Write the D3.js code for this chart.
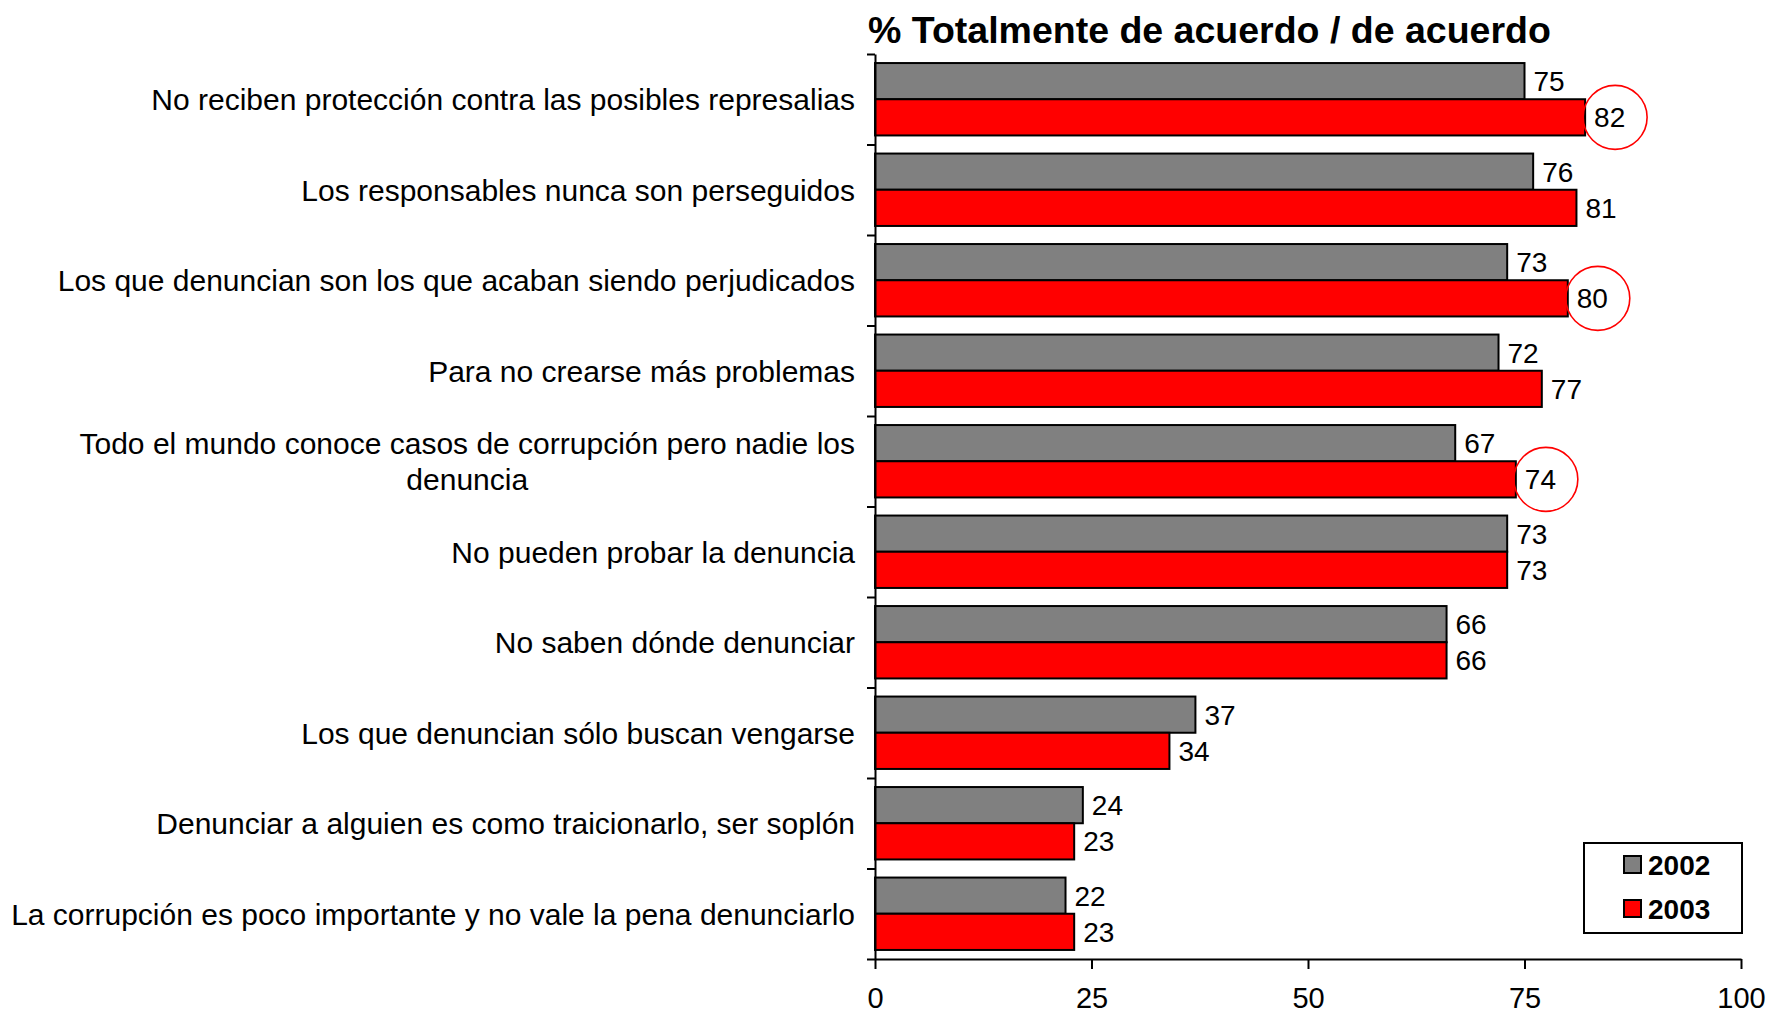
<!DOCTYPE html>
<html>
<head>
<meta charset="utf-8">
<script src="https://cdn.jsdelivr.net/npm/d3@7"></script>
<style>
  body { margin: 0; background: #fff; }
  text { font-family: "Liberation Sans", Arial, sans-serif; fill: #000; }
</style>
</head>
<body>
<div id="chart"></div>
<script>
// Categories (top to bottom), one of them wraps on two lines
const categories = [
    ["No reciben protección contra las posibles represalias"],
    ["Los responsables nunca son perseguidos"],
    ["Los que denuncian son los que acaban siendo perjudicados"],
    ["Para no crearse más problemas"],
    ["Todo el mundo conoce casos de corrupción pero nadie los", "denuncia"],
    ["No pueden probar la denuncia"],
    ["No saben dónde denunciar"],
    ["Los que denuncian sólo buscan vengarse"],
    ["Denunciar a alguien es como traicionarlo, ser soplón"],
    ["La corrupción es poco importante y no vale la pena denunciarlo"]
];
const series = ["2002", "2003"];
const values2002 = [75, 76, 73, 72, 67, 73, 66, 37, 24, 22];
const values2003 = [82, 81, 80, 77, 74, 73, 66, 34, 23, 23];
// 2003 values that are circled in red
const circled = [0, 2, 4];
const xTicks = [0, 25, 50, 75, 100];
const title = "% Totalmente de acuerdo / de acuerdo";

const colors = {"2002": "#808080", "2003": "#ff0000"};

const W = 1767, H = 1013;
const plot = {left: 875, right: 1741, top: 54, bottom: 959};

const svg = d3.select("#chart")
    .append("svg")
    .attr("width", W)
    .attr("height", H);

// Scales
const x = d3.scaleLinear().domain([0, 100]).range([plot.left, plot.right]);

const y = d3.scaleBand()
    .domain(d3.range(categories.length))
    .range([plot.top, plot.bottom])
    .paddingInner(0.2)
    .paddingOuter(0.1);

const ySub = d3.scaleBand()
    .domain(series)
    .range([0, y.bandwidth()]);

// Boundaries between categories, for the left ticks
const yb = d3.scaleLinear().domain([0, categories.length]).range([plot.top, plot.bottom]);

const data = categories.map((c, i) => ({
    i: i,
    label: c,
    vals: [{s: "2002", v: values2002[i]}, {s: "2003", v: values2003[i]}]
}));

// Bars
const groups = svg.selectAll(".cat")
    .data(data)
    .enter()
    .append("g")
    .attr("class", "cat")
    .attr("transform", d => `translate(0, ${y(d.i)})`);

groups.selectAll("rect")
    .data(d => d.vals)
    .enter()
    .append("rect")
    .attr("x", x(0))
    .attr("y", d => ySub(d.s))
    .attr("width", d => x(d.v) - x(0))
    .attr("height", ySub.bandwidth())
    .attr("fill", d => colors[d.s])
    .attr("stroke", "#000")
    .attr("stroke-width", 2);

// Value labels
groups.selectAll(".val")
    .data(d => d.vals)
    .enter()
    .append("text")
    .attr("class", "val")
    .attr("x", d => x(d.v) + 9)
    .attr("y", d => ySub(d.s) + ySub.bandwidth() / 2)
    .attr("dy", "0.36em")
    .style("font-size", "28px")
    .text(d => d.v);

// Red circles round some 2003 values
svg.selectAll(".hl")
    .data(circled)
    .enter()
    .append("circle")
    .attr("class", "hl")
    .attr("cx", i => x(values2003[i]) + 30)
    .attr("cy", i => y(i) + ySub("2003") + ySub.bandwidth() / 2)
    .attr("r", 32)
    .attr("fill", "none")
    .attr("stroke", "#ff0000")
    .attr("stroke-width", 1.6);

// Category labels
const labelX = 855;
data.forEach(d => {
    const cy = y(d.i) + y.bandwidth() / 2;
    if (d.label.length === 1) {
        svg.append("text")
            .attr("x", labelX)
            .attr("y", cy)
            .attr("dy", "0.36em")
            .attr("text-anchor", "end")
            .style("font-size", "30px")
            .text(d.label[0]);
    } else {
        const first = svg.append("text")
            .attr("x", labelX)
            .attr("y", cy - 18)
            .attr("dy", "0.36em")
            .attr("text-anchor", "end")
            .style("font-size", "30px")
            .text(d.label[0]);
        const w = first.node().getComputedTextLength();
        svg.append("text")
            .attr("x", labelX - w / 2)
            .attr("y", cy + 18)
            .attr("dy", "0.36em")
            .attr("text-anchor", "middle")
            .style("font-size", "30px")
            .text(d.label[1]);
    }
});

// Y axis: line plus ticks at category boundaries
svg.append("g")
    .attr("transform", `translate(${plot.left}, 0)`)
    .call(d3.axisLeft(yb).tickValues(d3.range(categories.length + 1)).tickSize(8).tickSizeOuter(0).tickFormat(""))
    .call(g => g.selectAll("line, path").attr("stroke", "#000").attr("stroke-width", 2));

// X axis
svg.append("g")
    .attr("transform", `translate(0, ${plot.bottom})`)
    .call(d3.axisBottom(x).tickValues(xTicks).tickSize(10).tickSizeOuter(0).tickPadding(18))
    .call(g => g.selectAll("line, path").attr("stroke", "#000").attr("stroke-width", 2))
    .call(g => g.selectAll("text")
        .style("font-family", "'Liberation Sans', Arial, sans-serif")
        .style("font-size", "29px")
        .attr("fill", "#000"));

// Title
svg.append("text")
    .attr("x", 868)
    .attr("y", 43)
    .style("font-size", "37.5px")
    .style("font-weight", "bold")
    .text(title);

// Legend
const lg = svg.append("g").attr("transform", "translate(1584, 843)");
lg.append("rect")
    .attr("width", 158)
    .attr("height", 90)
    .attr("fill", "#fff")
    .attr("stroke", "#000")
    .attr("stroke-width", 2);

const items = lg.selectAll(".item")
    .data(series)
    .enter()
    .append("g")
    .attr("class", "item")
    .attr("transform", (d, i) => `translate(40, ${13 + i * 44})`);

items.append("rect")
    .attr("width", 17)
    .attr("height", 17)
    .attr("fill", d => colors[d])
    .attr("stroke", "#000")
    .attr("stroke-width", 2);

items.append("text")
    .attr("x", 24)
    .attr("y", 8.5)
    .attr("dy", "0.36em")
    .style("font-size", "28px")
    .style("font-weight", "bold")
    .text(d => d);
</script>
</body>
</html>
